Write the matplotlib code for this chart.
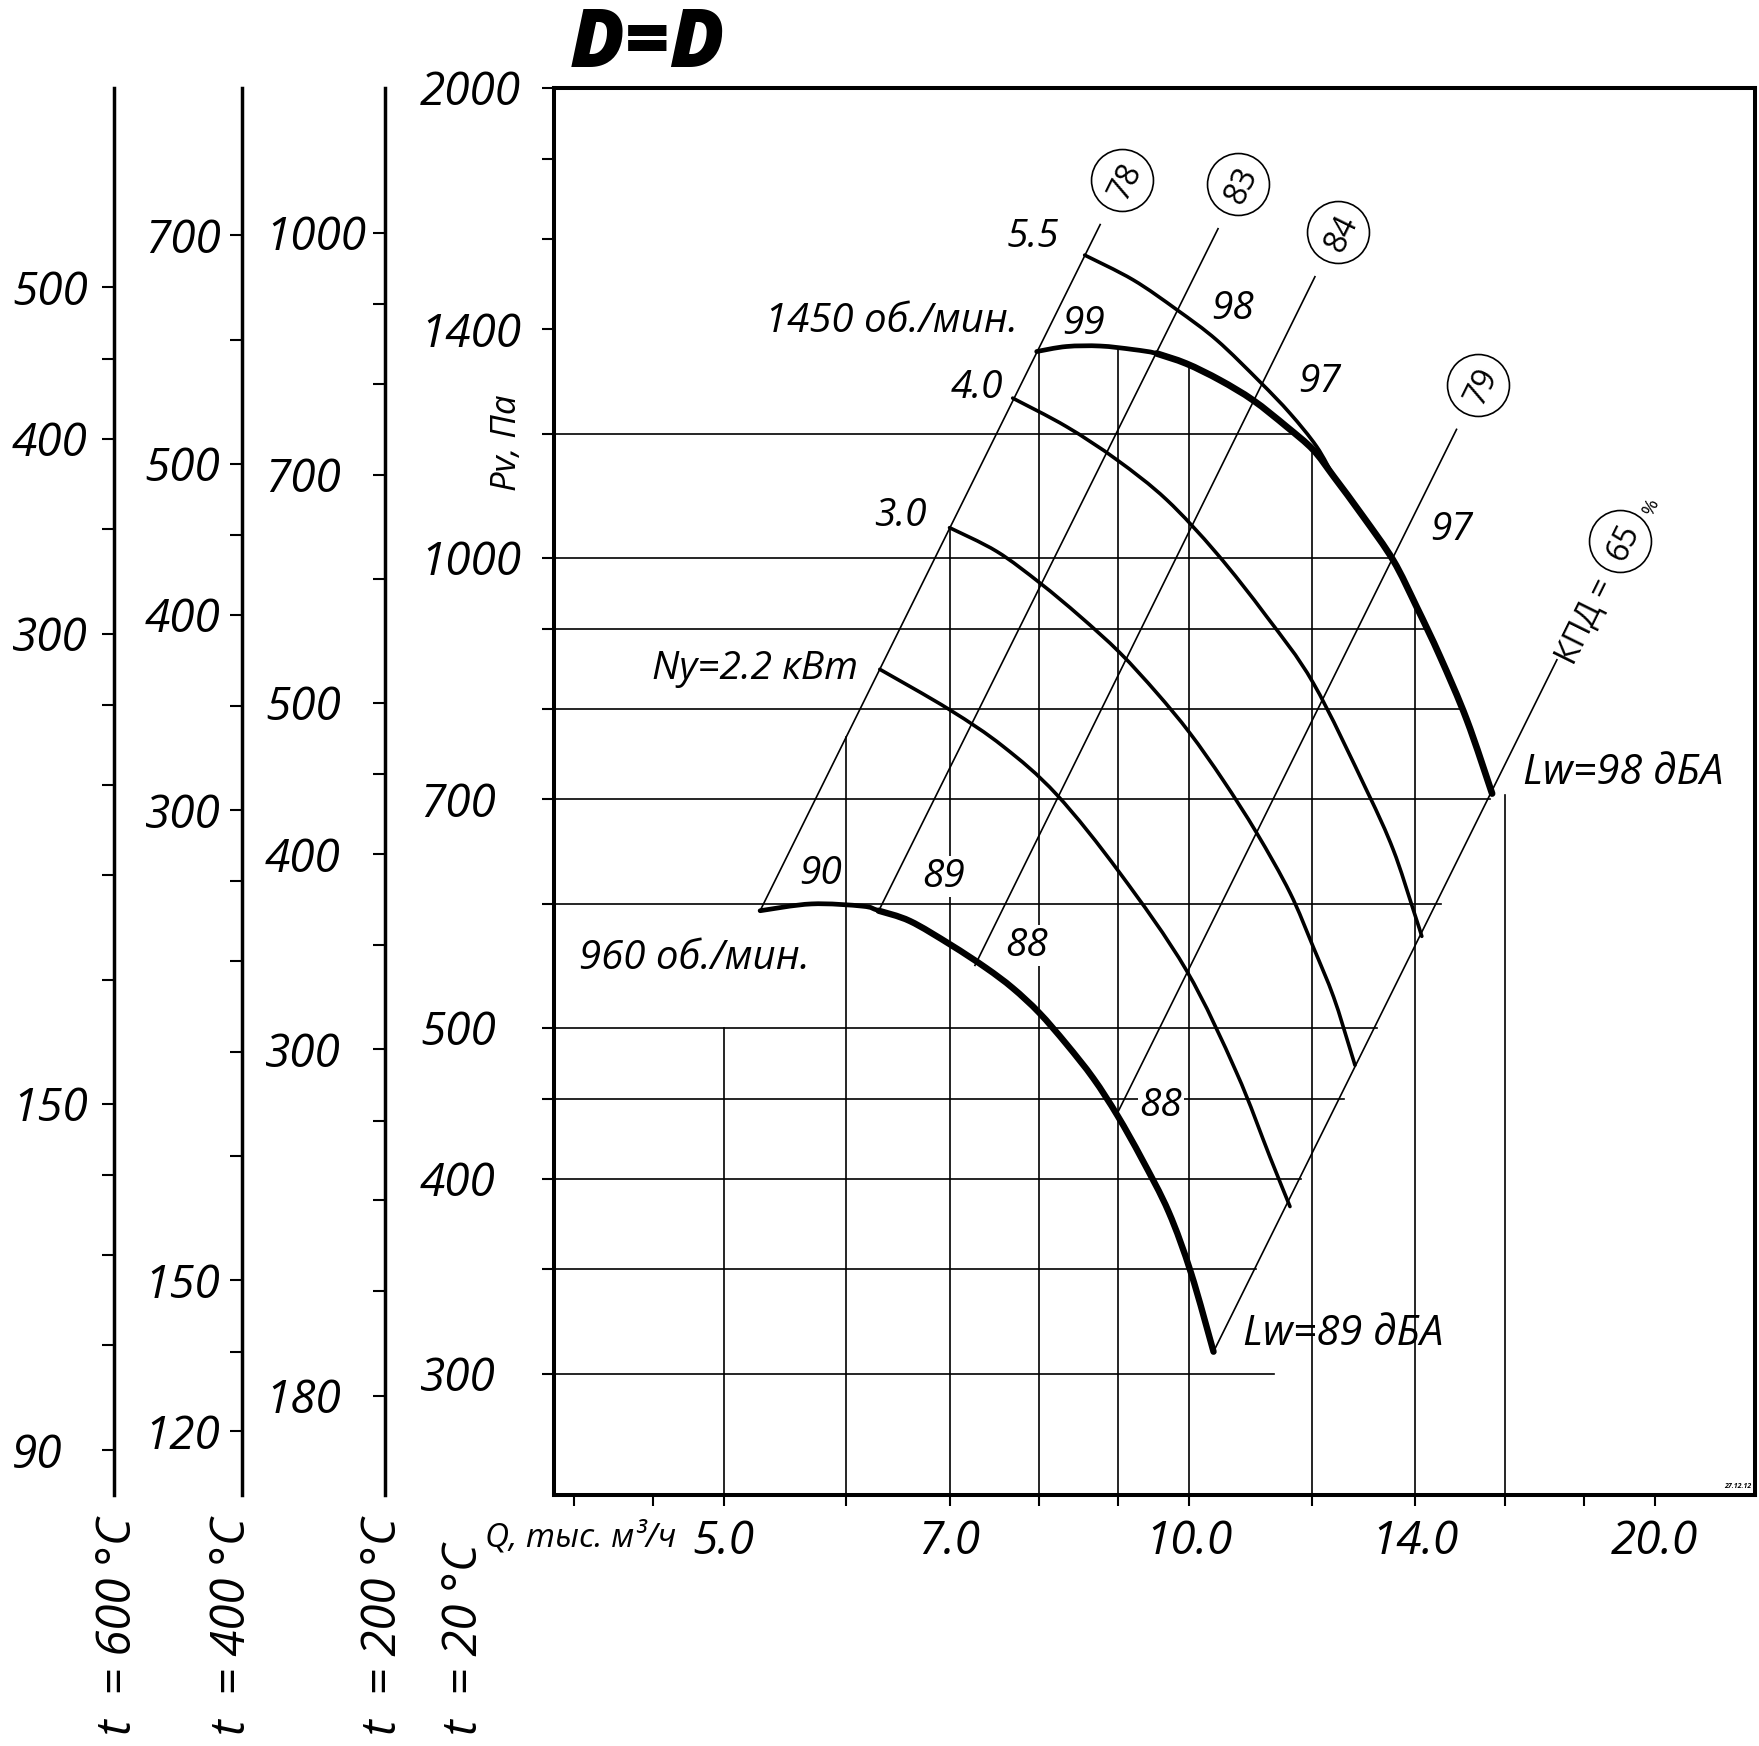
import numpy as np
import matplotlib
matplotlib.use('Agg')
import matplotlib.pyplot as plt
from matplotlib.path import Path
from matplotlib.patches import PathPatch

plt.rcParams['font.family'] = ['Open Sans', 'DejaVu Sans']
plt.rcParams['font.style'] = 'italic'

# напорные кривые: Q, тыс. м3/ч  /  Pv, Па
q960 = [5.28, 5.70, 6.15, 6.30, 6.60, 7.01, 7.39, 7.69, 8.00, 8.33, 8.67, 8.99, 9.32, 9.70, 10.03, 10.37]
p960 = [594, 600, 598, 594, 585, 565, 546, 530, 511, 488, 464, 439, 412, 381, 348, 310]
q1450 = [7.97, 8.33, 8.76, 9.20, 9.53, 9.96, 10.47, 11.00, 11.56, 12.03, 12.40, 12.96, 13.55, 14.03, 14.53, 15.12, 15.70]
p1450 = [1355, 1365, 1366, 1359, 1351, 1331, 1299, 1261, 1213, 1172, 1127, 1062, 996, 930, 864, 787, 706]
q55 = [8.56, 9.20, 9.82, 10.42, 11.11, 11.62, 12.09, 12.40]
p55 = [1562, 1506, 1441, 1378, 1296, 1237, 1178, 1127]
q40 = [7.69, 8.33, 8.98, 9.67, 10.42, 11.22, 12.03, 13.02, 13.55, 13.96, 14.14]
p40 = [1265, 1213, 1155, 1089, 1006, 917, 831, 710, 650, 595, 572]
q30 = [7.00, 7.51, 8.01, 8.50, 9.02, 9.53, 10.01, 10.52, 11.06, 11.62, 12.03, 12.40, 12.71, 12.80]
p30 = [1045, 1009, 963, 917, 869, 819, 772, 720, 666, 610, 563, 523, 484, 473]
q22 = [6.31, 7.00, 7.58, 8.21, 9.02, 9.96, 10.73, 11.28, 11.62]
p22 = [848, 799, 757, 705, 628, 544, 468, 413, 384]

# линии сети (концы) и кружки с номерами
sys_names = ['78', '83', '84', '79', '65']
sys_q = [(5.28, 8.76), (6.30, 10.44), (7.27, 12.06), (8.98, 14.89), (10.37, 17.29)]
sys_p = [(594, 1634), (594, 1624), (548, 1513), (440, 1208), (310, 860)]
circ_q = [9.05, 10.76, 12.49, 15.38, 19.0]
circ_p = [1746, 1735, 1617, 1290, 1025]

# сетка
hgrid_p = [1200, 1000, 900, 800, 700, 600, 500, 450, 400, 350, 300]
hgrid_q = [11.67, 13.5, 14.2, 14.99, 15.65, 14.55, 13.23, 12.6, 11.82, 11.05, 11.34]
vgrid_q = [5, 6, 7, 8, 9, 10, 12, 14, 16]
vgrid_p = [500, 768, 1045, 1356, 1360, 1322, 1166, 928, 705]

# оси
x_major = [5, 7, 10, 14, 20]
x_major_lbl = ['5.0', '7.0', '10.0', '14.0', '20.0']
x_minor = [4, 4.5, 6, 8, 9, 12, 16, 18]
y_major = [2000, 1400, 1000, 700, 500, 400, 300]
y_minor = [1800, 1600, 1200, 900, 800, 600, 450, 350]

temps = [600, 400, 200]
t_major = [[500, 400, 300, 150, 90],
           [700, 500, 400, 300, 150, 120],
           [1000, 700, 500, 400, 300, 180]]
t_minor = [[450, 350, 270, 240, 210, 180, 135, 120, 105],
           [600, 450, 350, 270, 240, 210, 180, 135],
           [900, 800, 600, 450, 350, 270, 240, 210]]


def smooth(q, p):
    # плавная линия через точки (Безье в логарифмических координатах)
    x = np.log10(q)
    y = np.log10(p)
    n = len(x)
    verts = [(x[0], y[0])]
    codes = [Path.MOVETO]
    for i in range(n - 1):
        i0 = max(i - 1, 0)
        i3 = min(i + 2, n - 1)
        c1 = (x[i] + (x[i + 1] - x[i0]) / 6, y[i] + (y[i + 1] - y[i0]) / 6)
        c2 = (x[i + 1] - (x[i3] - x[i]) / 6, y[i + 1] - (y[i3] - y[i]) / 6)
        verts += [c1, c2, (x[i + 1], y[i + 1])]
        codes += [Path.CURVE4] * 3
    verts = 10 ** np.array(verts)
    return Path(verts, codes)


def curve(ax, q, p, lw):
    ax.add_patch(PathPatch(smooth(q, p), fill=False, edgecolor='k', lw=lw, capstyle='round'))


W, H = 1759, 1746
fig = plt.figure(figsize=(W / 100, H / 100), dpi=100)
ax_b, ax_h = 1 - 1495.4 / H, (1495.4 - 87.5) / H
ax = fig.add_axes([554.2 / W, ax_b, (1755 - 554.2) / W, ax_h])
ax.set_xscale('log')
ax.set_yscale('log')
ylo, yhi = 250.8, 2000
ax.set_xlim(3.886, 23.22)
ax.set_ylim(ylo, yhi)
for s in ax.spines.values():
    s.set_linewidth(2.9)

ax.set_xticks(x_major)
ax.set_xticklabels(x_major_lbl)
ax.set_xticks(x_minor, minor=True)
ax.set_xticklabels([], minor=True)
ax.set_yticks(y_major)
ax.set_yticklabels([str(v) for v in y_major])
ax.set_yticks(y_minor, minor=True)
ax.set_yticklabels([], minor=True)
ax.tick_params(axis='x', which='both', direction='out', length=7.7, width=1.5, pad=9, labelsize=33)
ax.tick_params(axis='y', which='both', direction='out', length=8.6, width=1.5, pad=88, labelsize=33)
plt.setp(ax.get_yticklabels(), ha='left')

# сетка
for p, q in zip(hgrid_p, hgrid_q):
    ax.plot([ax.get_xlim()[0], q], [p, p], color='k', lw=1.2)
for q, p in zip(vgrid_q, vgrid_p):
    ax.plot([q, q], [ylo, p], color='k', lw=1.2)

# линии сети
for qq, pp in zip(sys_q, sys_p):
    ax.plot(qq, pp, color='k', lw=1.2)
ax.plot(circ_q, circ_p, 'o', ms=44.6, mfc='white', mec='k', mew=1.2, ls='none')
ang = 63.7
for name, q, p in zip(sys_names, circ_q, circ_p):
    ax.text(q, p, name, rotation=ang, rotation_mode='anchor', ha='center', va='center_baseline',
            fontsize=23, style='normal')
ax.text(17.94, 912, 'КПД =', rotation=ang, rotation_mode='anchor', ha='center', va='center_baseline',
        fontsize=23, style='normal')
ax.text(19.83, 1080, '%', rotation=ang, rotation_mode='anchor', ha='center', va='center_baseline',
        fontsize=14, style='normal')

# кривые
for qq, pp in [(q22, p22), (q30, p30), (q40, p40), (q55, p55)]:
    curve(ax, qq, pp, 2.6)
curve(ax, q960, p960, 3.4)
curve(ax, q960[3:], p960[3:], 4.6)
curve(ax, q1450, p1450, 3.4)
curve(ax, q1450[4:], p1450[4:], 4.8)

# подписи
fs = 29
fn = 28
ax.text(7.925, 1614, '5.5', ha='center', va='center_baseline', fontsize=fn)
ax.text(8.551, 1421, '99', ha='center', va='center_baseline', fontsize=fn)
ax.text(10.67, 1453, '98', ha='center', va='center_baseline', fontsize=fn)
ax.text(12.15, 1304, '97', ha='center', va='center_baseline', fontsize=fn)
ax.text(14.78, 1048, '97', ha='center', va='center_baseline', fontsize=fn)
ax.text(7.75, 1427, '1450 об./мин.', ha='right', va='center_baseline', fontsize=fs)
ax.text(7.292, 1292, '4.0', ha='center', va='center_baseline', fontsize=fn)
ax.text(6.502, 1070, '3.0', ha='center', va='center_baseline', fontsize=fn)
ax.text(6.108, 854, 'Ny=2.2 кВт', ha='right', va='center_baseline', fontsize=28)
ax.text(5.776, 631, '90', ha='center', va='center_baseline', fontsize=fn)
box = dict(facecolor='white', edgecolor='none', pad=1)
ax.text(6.935, 628.5, '89', ha='center', va='center_baseline', fontsize=fn, bbox=box)
ax.text(7.852, 568, '88', ha='center', va='center_baseline', fontsize=fn, bbox=box)
ax.text(9.587, 448.4, '88', ha='center', va='center_baseline', fontsize=fn, bbox=box)
ax.text(5.686, 557.7, '960 об./мин.', ha='right', va='center_baseline', fontsize=fs)
ax.text(10.83, 320.4, 'Lw=89 дБА', ha='left', va='center_baseline', fontsize=30)
ax.text(16.45, 732.8, 'Lw=98 дБА', ha='left', va='center_baseline', fontsize=30)
ax.text(0.997, 0.004, '27.12.12', transform=ax.transAxes, ha='right', va='bottom',
        fontsize=5, fontweight='bold')

# шкалы для горячего воздуха
t_x = [114.3, 242.0, 384.5]
t_pad = [65, 61.5, 77.4]
for t, xp, pad, maj, mnr in zip(temps, t_x, t_pad, t_major, t_minor):
    k = (273 + t) / (273 + 20)
    at = fig.add_axes([xp / W, ax_b, 0.0001, ax_h])
    at.set_yscale('log')
    at.set_ylim(ylo / k, yhi / k)
    at.set_xticks([])
    for side in ['top', 'right', 'bottom']:
        at.spines[side].set_visible(False)
    at.spines['left'].set_linewidth(2.5)
    at.patch.set_visible(False)
    at.set_yticks(maj)
    at.set_yticklabels([str(v) for v in maj])
    at.set_yticks(mnr, minor=True)
    at.set_yticklabels([], minor=True)
    at.tick_params(axis='y', which='both', direction='out', length=8.6, width=1.5, pad=pad, labelsize=33)
    plt.setp(at.get_yticklabels(), ha='left')

fig.text(648 / W, 1 - 46 / H, 'D=D', ha='center', va='center', fontsize=58, fontweight='heavy')
fig.text(507 / W, 1 - 443 / H, 'Pv, Па', rotation=90, ha='center', va='center', fontsize=25)
fig.text(484.6 / W, 1 - 1538 / H, 'Q, тыс. м³/ч', ha='left', va='center', fontsize=24)
for lbl, xp in zip(['t  = 600 °C', 't  = 400 °C', 't  = 200 °C', 't  = 20 °C'], [117.8, 232.7, 383, 464]):
    fig.text(xp / W, 1 - 1735 / H, lbl, rotation=90, ha='center', va='bottom', fontsize=34)

fig.savefig('out.png', dpi=100)
